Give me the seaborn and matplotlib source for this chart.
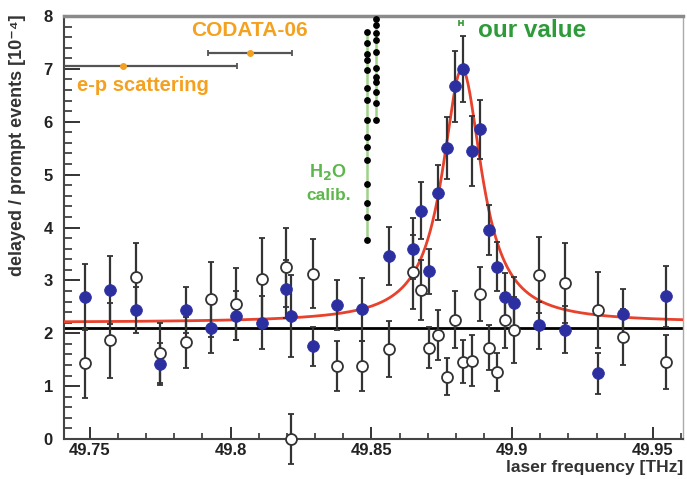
import numpy as np
import pandas as pd
import matplotlib
matplotlib.use("Agg")
import matplotlib.pyplot as plt
from matplotlib.ticker import MultipleLocator
import seaborn as sns

# laser scan points (THz) with signal (blue) and background (open) ratios
freq = [49.7483, 49.7573, 49.7663, 49.7750, 49.7843, 49.7930, 49.8020, 49.8110,
        49.8198, 49.8215, 49.8293, 49.8378, 49.8468, 49.8562, 49.8648, 49.8678,
        49.8705, 49.8737, 49.8767, 49.8796, 49.8826, 49.8858, 49.8887, 49.8917,
        49.8946, 49.8976, 49.9006, 49.9096, 49.9189, 49.9305, 49.9394, 49.9548]
sig = [2.69, 2.82, 2.44, 1.42, 2.44, 2.09, 2.33, 2.20, 2.83, 2.33, 1.75, 2.53,
       2.45, 3.46, 3.60, 4.32, 3.17, 4.66, 5.50, 6.67, 7.00, 5.44, 5.86, 3.95,
       3.26, 2.69, 2.57, 2.15, 2.07, 1.24, 2.36, 2.70]
sig_err = [0.62, 0.64, 0.43, 0.40, 0.44, 0.46, 0.46, 0.50, 0.55, 0.78, 0.37, 0.47,
           0.60, 0.55, 0.58, 0.54, 0.43, 0.52, 0.59, 0.67, 0.62, 0.66, 0.56, 0.47,
           0.46, 0.45, 0.50, 0.45, 0.45, 0.38, 0.47, 0.58]
bkg = [1.43, 1.87, 3.07, 1.63, 1.83, 2.64, 2.56, 3.02, 3.25, 0.00, 3.13, 1.38,
       1.38, 1.70, 3.16, 2.82, 1.73, 1.97, 1.18, 2.26, 1.46, 1.48, 2.74, 1.73,
       1.27, 2.25, 2.06, 3.10, 2.95, 2.44, 1.93, 1.45]
bkg_err = [0.65, 0.71, 0.63, 0.57, 0.48, 0.71, 0.68, 0.78, 0.75, 0.48, 0.65, 0.48,
           0.48, 0.53, 0.70, 0.56, 0.38, 0.47, 0.35, 0.53, 0.41, 0.48, 0.51, 0.43,
           0.36, 0.52, 0.62, 0.72, 0.75, 0.72, 0.53, 0.51]

# Lorentzian fit
fit_center = 49.8822
fit_hwhm = 0.0085
fit_amp = 4.8
fit_base = 2.2
bkg_level = 2.1

# water calibration scans
h2o_x1 = 49.8483
h2o_y1 = [7.70, 7.48, 7.29, 7.16, 6.98, 6.63, 6.41, 6.03, 5.71, 5.52, 5.27, 4.83,
          4.46, 4.20, 3.76]
h2o_x2 = 49.8515
h2o_y2 = [7.95, 7.83, 7.67, 7.54, 7.32, 7.01, 6.85, 6.75, 6.57, 6.35, 6.03]

# proton radius comparisons (centre, half-width, height)
codata = (49.8068, 0.0149, 7.30)
ep_scat = (49.7617, 0.0405, 7.05)
our_val = (49.8817, 0.0007, 7.86)

sns.set_style("ticks")
plt.rcParams['font.family'] = ['Liberation Sans', 'DejaVu Sans']
plt.rcParams['font.weight'] = 'bold'

fig = plt.figure(figsize=(6.87, 4.79), dpi=100)
ax = fig.add_axes([64 / 687, 1 - 439 / 479, 619 / 687, 423 / 479])

df = pd.DataFrame({'freq': freq, 'sig': sig, 'bkg': bkg})
errc = '#333333'

ax.axhline(bkg_level, color='black', lw=2, zorder=2)

xs = np.linspace(49.738, 49.962, 800)
curve = pd.DataFrame({'x': xs, 'y': fit_base + fit_amp / (1 + ((xs - fit_center) / fit_hwhm) ** 2)})
sns.lineplot(data=curve, x='x', y='y', color='#e8412c', lw=2, ax=ax, zorder=3)

ax.errorbar(freq, bkg, yerr=bkg_err, fmt='none', ecolor=errc, elinewidth=1.6,
            capsize=2, capthick=1.3, zorder=4, clip_on=False)
ax.errorbar(freq, sig, yerr=sig_err, fmt='none', ecolor=errc, elinewidth=1.6,
            capsize=2, capthick=1.3, zorder=4)
sns.scatterplot(data=df, x='freq', y='bkg', s=62, color='white', edgecolor='#333333',
                linewidth=1.3, ax=ax, zorder=5, clip_on=False)
sns.scatterplot(data=df, x='freq', y='sig', s=72, color='#2b2fa0', edgecolor='#2b2fa0',
                linewidth=0.5, ax=ax, zorder=6)

# H2O calibration
ax.plot([h2o_x1] * len(h2o_y1), h2o_y1, color='#9fd38a', lw=1.8, zorder=3)
ax.plot([h2o_x2] * len(h2o_y2), h2o_y2, color='#9fd38a', lw=1.8, zorder=3)
ax.scatter([h2o_x1] * len(h2o_y1), h2o_y1, s=15, color='black', zorder=4)
ax.scatter([h2o_x2] * len(h2o_y2), h2o_y2, s=15, color='black', zorder=4)
ax.text(49.8345, 5.05, 'H$_\\mathbf{2}$O', color='#5cb84a', fontsize=13, fontweight='bold',
        ha='center', va='center')
ax.text(49.8350, 4.60, 'calib.', color='#5cb84a', fontsize=12.5, fontweight='bold',
        ha='center', va='center')

# comparison values
orange = '#f4a11f'
for c, hw, yv in [codata, ep_scat]:
    ax.errorbar([c], [yv], xerr=[hw], fmt='none', ecolor='#555555', elinewidth=1.6,
                capsize=2.5, capthick=1.3, zorder=5)
    ax.scatter([c], [yv], s=16, color=orange, zorder=6)
ax.errorbar([our_val[0]], [our_val[2]], xerr=[our_val[1]], fmt='none', ecolor='#3a9a3a',
            elinewidth=1.2, capsize=2, capthick=1.2, zorder=5)
ax.text(49.8068, 7.72, 'CODATA-06', color=orange, fontsize=15, fontweight='bold',
        ha='center', va='center')
ax.text(49.7455, 6.68, 'e-p scattering', color=orange, fontsize=14.5, fontweight='bold',
        ha='left', va='center')
ax.text(49.8880, 7.72, 'our value', color='#2e9b3a', fontsize=17.5, fontweight='bold',
        ha='left', va='center')

ax.set_xlim(49.7408, 49.9607)
ax.set_ylim(0, 8)
ax.xaxis.set_major_locator(MultipleLocator(0.05))
ax.xaxis.set_minor_locator(MultipleLocator(0.01))
ax.yaxis.set_major_locator(MultipleLocator(1))
ax.yaxis.set_minor_locator(MultipleLocator(0.2))
ax.set_xticks([49.75, 49.8, 49.85, 49.9, 49.95])
ax.set_xticklabels(['49.75', '49.8', '49.85', '49.9', '49.95'])
ax.tick_params(axis='y', which='major', direction='in', length=11.5, width=1.4,
               pad=8, labelsize=12, labelcolor='#222222', color='#333333')
ax.tick_params(axis='y', which='minor', direction='in', length=5.8, width=1.2, color='#333333')
ax.tick_params(axis='x', which='major', direction='in', length=8.6, width=1.4,
               pad=3, labelsize=12, labelcolor='#222222', color='#333333')
ax.tick_params(axis='x', which='minor', direction='in', length=4.3, width=1.2, color='#333333')
for lab in ax.get_xticklabels() + ax.get_yticklabels():
    lab.set_fontweight('bold')

for side in ['left', 'bottom']:
    ax.spines[side].set_color('#444444')
    ax.spines[side].set_linewidth(1.5)
ax.spines['top'].set_color('#8a8a8a')
ax.spines['top'].set_linewidth(2.5)
ax.spines['right'].set_color('#aaaaaa')
ax.spines['right'].set_linewidth(1)
ax.spines['top'].set_visible(True)
ax.spines['right'].set_visible(True)

ax.set_xlabel('laser frequency [THz]', loc='right', fontsize=12.5, fontweight='bold',
              color='#333333', labelpad=1)
ax.set_ylabel('')
fig.text(18 / 687, 1 - 145 / 479, 'delayed / prompt events [10⁻⁴]', rotation=90,
         ha='center', va='center', fontsize=13, fontweight='bold', color='#333333')

fig.savefig('out.png', dpi=100)
